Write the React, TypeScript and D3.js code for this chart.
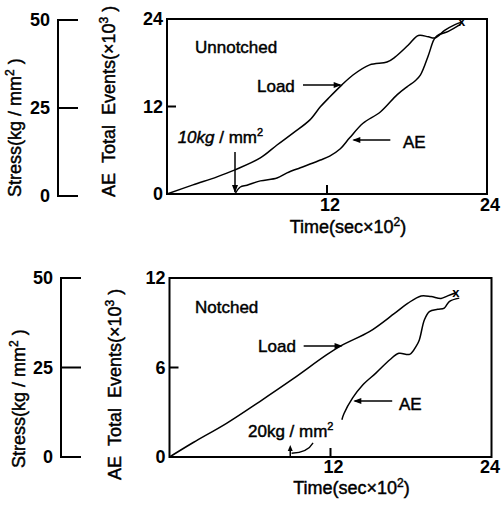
import React from 'react';
import * as d3 from 'd3';

// ---- data ----
const timeTicks = [12, 24];
const stressTicks = [0, 25, 50];
const topAETicks = [0, 12, 24];
const botAETicks = [0, 6, 12];

// Unnotched (top)
const topLoadTime = [0, 1.95, 3.75, 5.1, 7.0, 8.25, 9.45, 10.7, 11.5, 12.2, 13.1, 13.95, 15.2, 16.5, 17.1, 18.08, 18.85, 19.6, 20.1, 20.85, 21.6, 22.1];
const topLoadStress = [0, 2.6, 4.9, 6.9, 10.3, 14.0, 17.4, 21.1, 24.9, 27.7, 31.1, 34.0, 36.9, 37.7, 39.1, 42.5, 45.3, 44.9, 44.6, 46.8, 48.4, 49.1];
const topAETime = [5.1, 5.5, 6.0, 7.0, 8.25, 9.0, 10.0, 10.95, 11.5, 12.2, 13.0, 13.7, 14.7, 16.0, 17.25, 18.0, 18.6, 19.0, 19.6, 20.0, 20.25, 21.1, 22.0];
const topAEEvents = [0, 0.96, 1.2, 1.8, 2.2, 2.9, 3.6, 4.25, 4.66, 5.2, 6.2, 7.7, 9.7, 11.25, 13.6, 14.7, 15.5, 16.3, 19.0, 21.1, 21.7, 22.3, 23.25];

// Notched (bottom)
const botLoadTime = [0, 1.77, 4.25, 6.73, 9.2, 11.7, 12.9, 14.9, 16.77, 17.75, 18.75, 19.5, 20.24, 20.73, 21.35];
const botLoadStress = [0, 4.05, 9.4, 15.5, 21.8, 28.5, 31.3, 35.0, 40.1, 42.9, 45.0, 44.8, 44.3, 45.0, 45.9];
const botAETime = [12.85, 13.0, 13.65, 14.4, 15.4, 16.4, 17.1, 17.9, 18.4, 18.62, 19.0, 19.37, 19.99, 20.48, 20.85, 21.6];
const botAEEvents = [2.5, 2.9, 3.96, 4.83, 5.64, 6.5, 6.95, 6.88, 7.45, 7.85, 9.2, 9.75, 9.9, 9.98, 10.42, 10.65];

const FONT = "'Liberation Sans', Arial, Helvetica, sans-serif";
const SP = '\u00a0';

type Geo = {
  left: number; right: number; top: number; bottom: number;
  stressX: number; stressTop: number; stressBottom: number;
  aeMax: number; aeTicks: number[];
  stressLabelX: number; stressLabelY: number;
  aeLabelX: number; aeLabelY: number;
  xTickBase: number; timeBase: number;
};

function head(x: number, y: number, dir: 'l' | 'r' | 'u' | 'd', L = 8, w = 3) {
  let pts: number[][];
  if (dir === 'r') pts = [[x, y], [x - L, y - w], [x - L, y + w]];
  else if (dir === 'l') pts = [[x, y], [x + L, y - w], [x + L, y + w]];
  else if (dir === 'u') pts = [[x, y], [x - w, y + L], [x + w, y + L]];
  else pts = [[x, y], [x - w, y - L], [x + w, y - L]];
  return <polygon points={pts.map(p => p.join(',')).join(' ')} fill="#000" />;
}

const thick = { stroke: '#000', strokeWidth: 0.45 } as const;

function Axes({ g }: { g: Geo }) {
  const x = d3.scaleLinear().domain([0, 24]).range([g.left, g.right]);
  const yAE = d3.scaleLinear().domain([0, g.aeMax]).range([g.bottom, g.top]);
  const yS = d3.scaleLinear().domain([0, 50]).range([g.stressBottom, g.stressTop]);
  return (
    <g>
      <line x1={g.stressX} x2={g.stressX} y1={yS(0)} y2={yS(50)} stroke="#000" strokeWidth={2} />
      {stressTicks.map(t => (
        <g key={t}>
          <line x1={g.stressX - 1} x2={g.stressX + 20} y1={yS(t)} y2={yS(t)} stroke="#000" strokeWidth={2} />
          <text x={g.stressX - 8} y={yS(t)} dy="0.36em" textAnchor="end" fontSize={18} fontWeight="bold">{t}</text>
        </g>
      ))}
      <rect x={g.left} y={g.top} width={g.right - g.left} height={g.bottom - g.top} fill="none" stroke="#000" strokeWidth={2} />
      {g.aeTicks.map(t => (
        <g key={t}>
          {t > 0 && t < g.aeMax && <line x1={g.left} x2={g.left + 9} y1={yAE(t)} y2={yAE(t)} stroke="#000" strokeWidth={2} />}
          <text x={g.left - 4} y={yAE(t)} dy="0.36em" textAnchor="end" fontSize={18} fontWeight="bold">{t}</text>
        </g>
      ))}
      {timeTicks.map(t => (
        <g key={t}>
          {t < 24 && <line x1={x(t)} x2={x(t)} y1={g.bottom} y2={g.bottom - 9} stroke="#000" strokeWidth={2} />}
          <text x={t < 24 ? x(t) + 3 : 500} y={g.xTickBase} textAnchor={t < 24 ? 'middle' : 'end'} fontSize={18} fontWeight="bold">{t}</text>
        </g>
      ))}
      <text x={(g.left + g.right) / 2 + 21} y={g.timeBase} textAnchor="middle" fontSize={18} {...thick}>
        Time(sec×10<tspan fontSize={12} dy={-7}>2</tspan><tspan dy={7}>)</tspan>
      </text>
      <text transform={`translate(${g.stressLabelX},${g.stressLabelY}) rotate(-90)`} fontSize={18} {...thick}>
        {`Stress(kg${SP}/${SP}mm`}<tspan fontSize={12} dy={-7}>2</tspan><tspan dy={7}>{`${SP})`}</tspan>
      </text>
      <text transform={`translate(${g.aeLabelX},${g.aeLabelY}) rotate(-90)`} fontSize={18} {...thick}>
        {`AE${SP}${SP}Total${SP}${SP}Events(×10`}<tspan fontSize={12} dy={-7}>3</tspan><tspan dy={7}>{`${SP})`}</tspan>
      </text>
    </g>
  );
}

const topGeo: Geo = {
  left: 167, right: 487, top: 19, bottom: 194,
  stressX: 58, stressTop: 20, stressBottom: 196,
  aeMax: 24, aeTicks: topAETicks,
  stressLabelX: 21, stressLabelY: 197, aeLabelX: 115, aeLabelY: 197,
  xTickBase: 211, timeBase: 233,
};
const botGeo: Geo = {
  left: 169.5, right: 491.5, top: 278, bottom: 457,
  stressX: 61, stressTop: 278, stressBottom: 457,
  aeMax: 12, aeTicks: botAETicks,
  stressLabelX: 25, stressLabelY: 468, aeLabelX: 121, aeLabelY: 480,
  xTickBase: 473, timeBase: 494,
};

export default function App() {
  const curve = d3.curveCatmullRom.alpha(0.5);

  const xT = d3.scaleLinear().domain([0, 24]).range([topGeo.left, topGeo.right]);
  const aeT = d3.scaleLinear().domain([0, 24]).range([topGeo.bottom, topGeo.top]);
  const sT = d3.scaleLinear().domain([0, 50]).range([topGeo.bottom, topGeo.top]);
  const xB = d3.scaleLinear().domain([0, 24]).range([botGeo.left, botGeo.right]);
  const aeB = d3.scaleLinear().domain([0, 12]).range([botGeo.bottom, botGeo.top]);
  const sB = d3.scaleLinear().domain([0, 50]).range([botGeo.bottom, botGeo.top]);

  const lineT_load = d3.line<number>().x((_, i) => xT(topLoadTime[i])).y(d => sT(d)).curve(curve)(topLoadStress) || '';
  const lineT_ae = d3.line<number>().x((_, i) => xT(topAETime[i])).y(d => aeT(d)).curve(curve)(topAEEvents) || '';
  const lineB_load = d3.line<number>().x((_, i) => xB(botLoadTime[i])).y(d => sB(d)).curve(curve)(botLoadStress) || '';
  const lineB_ae = d3.line<number>().x((_, i) => xB(botAETime[i])).y(d => aeB(d)).curve(curve)(botAEEvents) || '';

  const tEndX = xT(topLoadTime[topLoadTime.length - 1]);
  const tEndY = sT(topLoadStress[topLoadStress.length - 1]);
  const bEndX = xB(botLoadTime[botLoadTime.length - 1]);
  const bEndY = sB(botLoadStress[botLoadStress.length - 1]);

  const onsetT = topAETime[0];
  const onsetB = 9.0;

  return (
    <svg width={502} height={510} style={{ position: 'absolute', left: 0, top: 0, background: '#fff' }}
      fontFamily={FONT}>
      <rect x={0} y={0} width={502} height={510} fill="#fff" />
      <Axes g={topGeo} />
      <Axes g={botGeo} />

      <path d={lineT_load} fill="none" stroke="#000" strokeWidth={1.5} />
      <path d={lineT_ae} fill="none" stroke="#000" strokeWidth={1.5} />
      <text x={tEndX} y={tEndY + 4} fontSize={13} fontWeight="bold" textAnchor="middle">x</text>

      <path d={lineB_load} fill="none" stroke="#000" strokeWidth={1.5} />
      <path d={lineB_ae} fill="none" stroke="#000" strokeWidth={1.5} />
      <text x={bEndX} y={bEndY + 4} fontSize={13} fontWeight="bold" textAnchor="middle">x</text>

      <g {...thick}>
        <text x={xT(2.1)} y={53} fontSize={17}>Unnotched</text>
        <text x={xT(6.75)} y={92} fontSize={17}>Load</text>
        <text x={xT(17.7)} y={148} fontSize={17}>AE</text>
        <text x={xT(0.8)} y={143} fontSize={17}>
          <tspan fontStyle="italic">10kg</tspan>{`${SP}/${SP}mm`}<tspan fontSize={11} dy={-7}>2</tspan>
        </text>
      </g>
      <line x1={xT(10.2)} x2={xT(13.0)} y1={85} y2={85} stroke="#000" strokeWidth={1.5} />
      {head(xT(13.1), 85, 'r')}
      <line x1={xT(16.75)} x2={xT(14.0)} y1={140} y2={140} stroke="#000" strokeWidth={1.5} />
      {head(xT(13.9), 140, 'l')}
      <line x1={xT(onsetT)} x2={xT(onsetT)} y1={152} y2={aeT(0) - 2} stroke="#000" strokeWidth={1.5} />
      {head(xT(onsetT), aeT(0) - 1, 'd')}

      <g {...thick}>
        <text x={xB(1.9)} y={313} fontSize={17}>Notched</text>
        <text x={xB(6.6)} y={352} fontSize={17}>Load</text>
        <text x={xB(17.1)} y={410} fontSize={17}>AE</text>
        <text x={xB(5.85)} y={437} fontSize={17}>
          {`20kg${SP}/${SP}mm`}<tspan fontSize={11} dy={-7}>2</tspan>
        </text>
      </g>
      <line x1={xB(10.0)} x2={xB(12.8)} y1={346} y2={346} stroke="#000" strokeWidth={1.5} />
      {head(xB(12.9), 346, 'r')}
      <line x1={xB(16.6)} x2={xB(13.8)} y1={401} y2={401} stroke="#000" strokeWidth={1.5} />
      {head(xB(13.7), 401, 'l')}
      <line x1={xB(onsetB)} x2={xB(onsetB)} y1={aeB(0)} y2={aeB(0.6)} stroke="#000" strokeWidth={1.5} />
      {head(xB(onsetB), aeB(0.8), 'u', 6, 2.5)}
      <path d={`M${xB(onsetB + 0.1)},${aeB(0.25)} Q${xB(10.3)},${aeB(0.3)} ${xB(10.7)},${aeB(0.95)}`} fill="none" stroke="#000" strokeWidth={1.3} />
    </svg>
  );
}
